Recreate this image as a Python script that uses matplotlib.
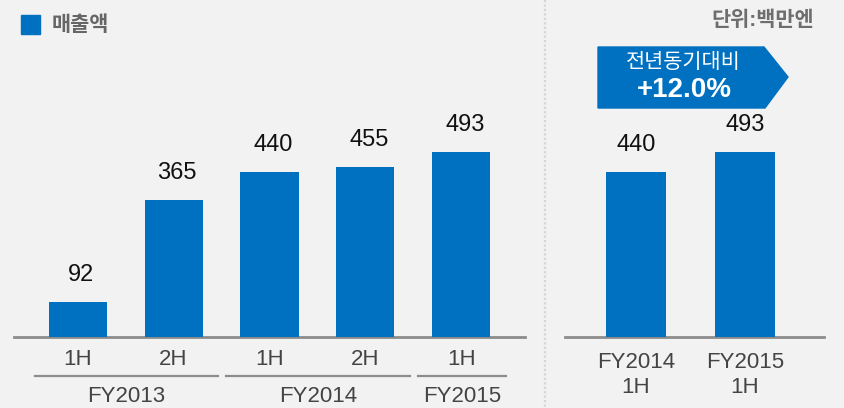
import matplotlib
matplotlib.use('Agg')
import matplotlib.pyplot as plt
import matplotlib.transforms as mtrans
from matplotlib.patches import Polygon, Rectangle

plt.rcParams['font.family'] = ['Liberation Sans', 'Noto Sans CJK KR']

# %% data
periods = ['1H', '2H', '1H', '2H', '1H']
sales = [92, 365, 440, 455, 493]
groups = ['FY2013', 'FY2014', 'FY2015']
group_idx = [[0, 1], [2, 3], [4]]

cmp_labels = ['FY2014\n1H', 'FY2015\n1H']
cmp_sales = [440, 493]

legend_label = '매출액'
unit_label = '단위:백만엔'
yoy_title = '전년동기대비'
yoy_value = '+12.0%'

blue = '#0070c0'
bg = '#f2f2f2'
grey_line = '#8c8c8c'

W, H = 844, 408
fig = plt.figure(figsize=(W / 100, H / 100), dpi=100, facecolor=bg)

# pixel helpers
def box(x0, y_base, x1, y_top):
    return [x0 / W, (H - y_base) / H, (x1 - x0) / W, (y_base - y_top) / H]

scale = 0.374  # px per unit
base = 336.7
ax_top = 36
ymax = (base - ax_top) / scale

# overlay in pixel coords for decorations
ov = fig.add_axes([0, 0, 1, 1])
ov.set_xlim(0, W)
ov.set_ylim(H, 0)
ov.axis('off')
ov.patch.set_alpha(0)

# %% left panel
ax = fig.add_axes(box(14, base, 525, ax_top))
ax.patch.set_alpha(0)
x = list(range(len(sales)))
ax.bar(x, sales, width=0.605, color=blue, zorder=3)
ax.set_xlim(-0.664, 4.664)
ax.set_ylim(0, ymax)
ax.set_yticks([])
for s in ['top', 'left', 'right']:
    ax.spines[s].set_visible(False)
ax.spines['bottom'].set_color(grey_line)
ax.spines['bottom'].set_linewidth(2)
ax.set_xticks(x, periods)
ax.tick_params(axis='x', length=0, pad=9, labelsize=16, labelcolor='#444444')

for xi, v in zip(x, sales):
    ax.annotate(str(v), (xi, v), xytext=(2.5, 15), textcoords='offset points',
                ha='center', va='baseline', fontsize=17, color='#111111')

tr = mtrans.blended_transform_factory(ax.transData, fig.transFigure)
for name, idx in zip(groups, group_idx):
    a, b = idx[0] - 0.45, idx[-1] + 0.466
    ax.plot([a, b], [(H - 376) / H] * 2, transform=tr, color=grey_line,
            lw=1.6, clip_on=False)
    ax.text((a + b) / 2, (H - 396) / H, name, transform=tr, ha='center',
            va='center', fontsize=16, color='#444444')

# %% right panel
ax2 = fig.add_axes(box(565, base, 824, ax_top))
ax2.patch.set_alpha(0)
x2 = list(range(len(cmp_sales)))
ax2.bar(x2, cmp_sales, width=0.55, color=blue, zorder=3)
ax2.set_xlim(-0.651, 1.725)
ax2.set_ylim(0, ymax)
ax2.set_yticks([])
for s in ['top', 'left', 'right']:
    ax2.spines[s].set_visible(False)
ax2.spines['bottom'].set_color(grey_line)
ax2.spines['bottom'].set_linewidth(2)
ax2.set_xticks(x2, cmp_labels)
ax2.tick_params(axis='x', length=0, pad=11, labelsize=16, labelcolor='#444444')
for lbl in ax2.get_xticklabels():
    lbl.set_linespacing(1.25)

for xi, v in zip(x2, cmp_sales):
    ax2.annotate(str(v), (xi, v), xytext=(0, 15), textcoords='offset points',
                 ha='center', va='baseline', fontsize=17, color='#111111')

# %% decorations
ov.plot([545, 545], [0, H], color='#d6d6d6', lw=1.6, ls=(0, (1, 1)))

ov.add_patch(Rectangle((21, 15), 19, 19, color=blue))
ov.text(52, 25, legend_label, ha='left', va='center', fontsize=15,
        fontweight='bold', color='#666666')
ov.text(814, 20, unit_label, ha='right', va='center', fontsize=15,
        fontweight='bold', color='#6e6e6e')

ov.add_patch(Polygon([(598, 47), (764, 47), (788, 77), (765, 108), (598, 108)],
                     closed=True, color=blue))
ov.text(683, 62, yoy_title, ha='center', va='center', fontsize=15,
        fontweight='medium', color='white')
ov.text(684, 90, yoy_value, ha='center', va='center', fontsize=20,
        fontweight='bold', color='white')

fig.savefig('out.png', dpi=100, facecolor=bg)
